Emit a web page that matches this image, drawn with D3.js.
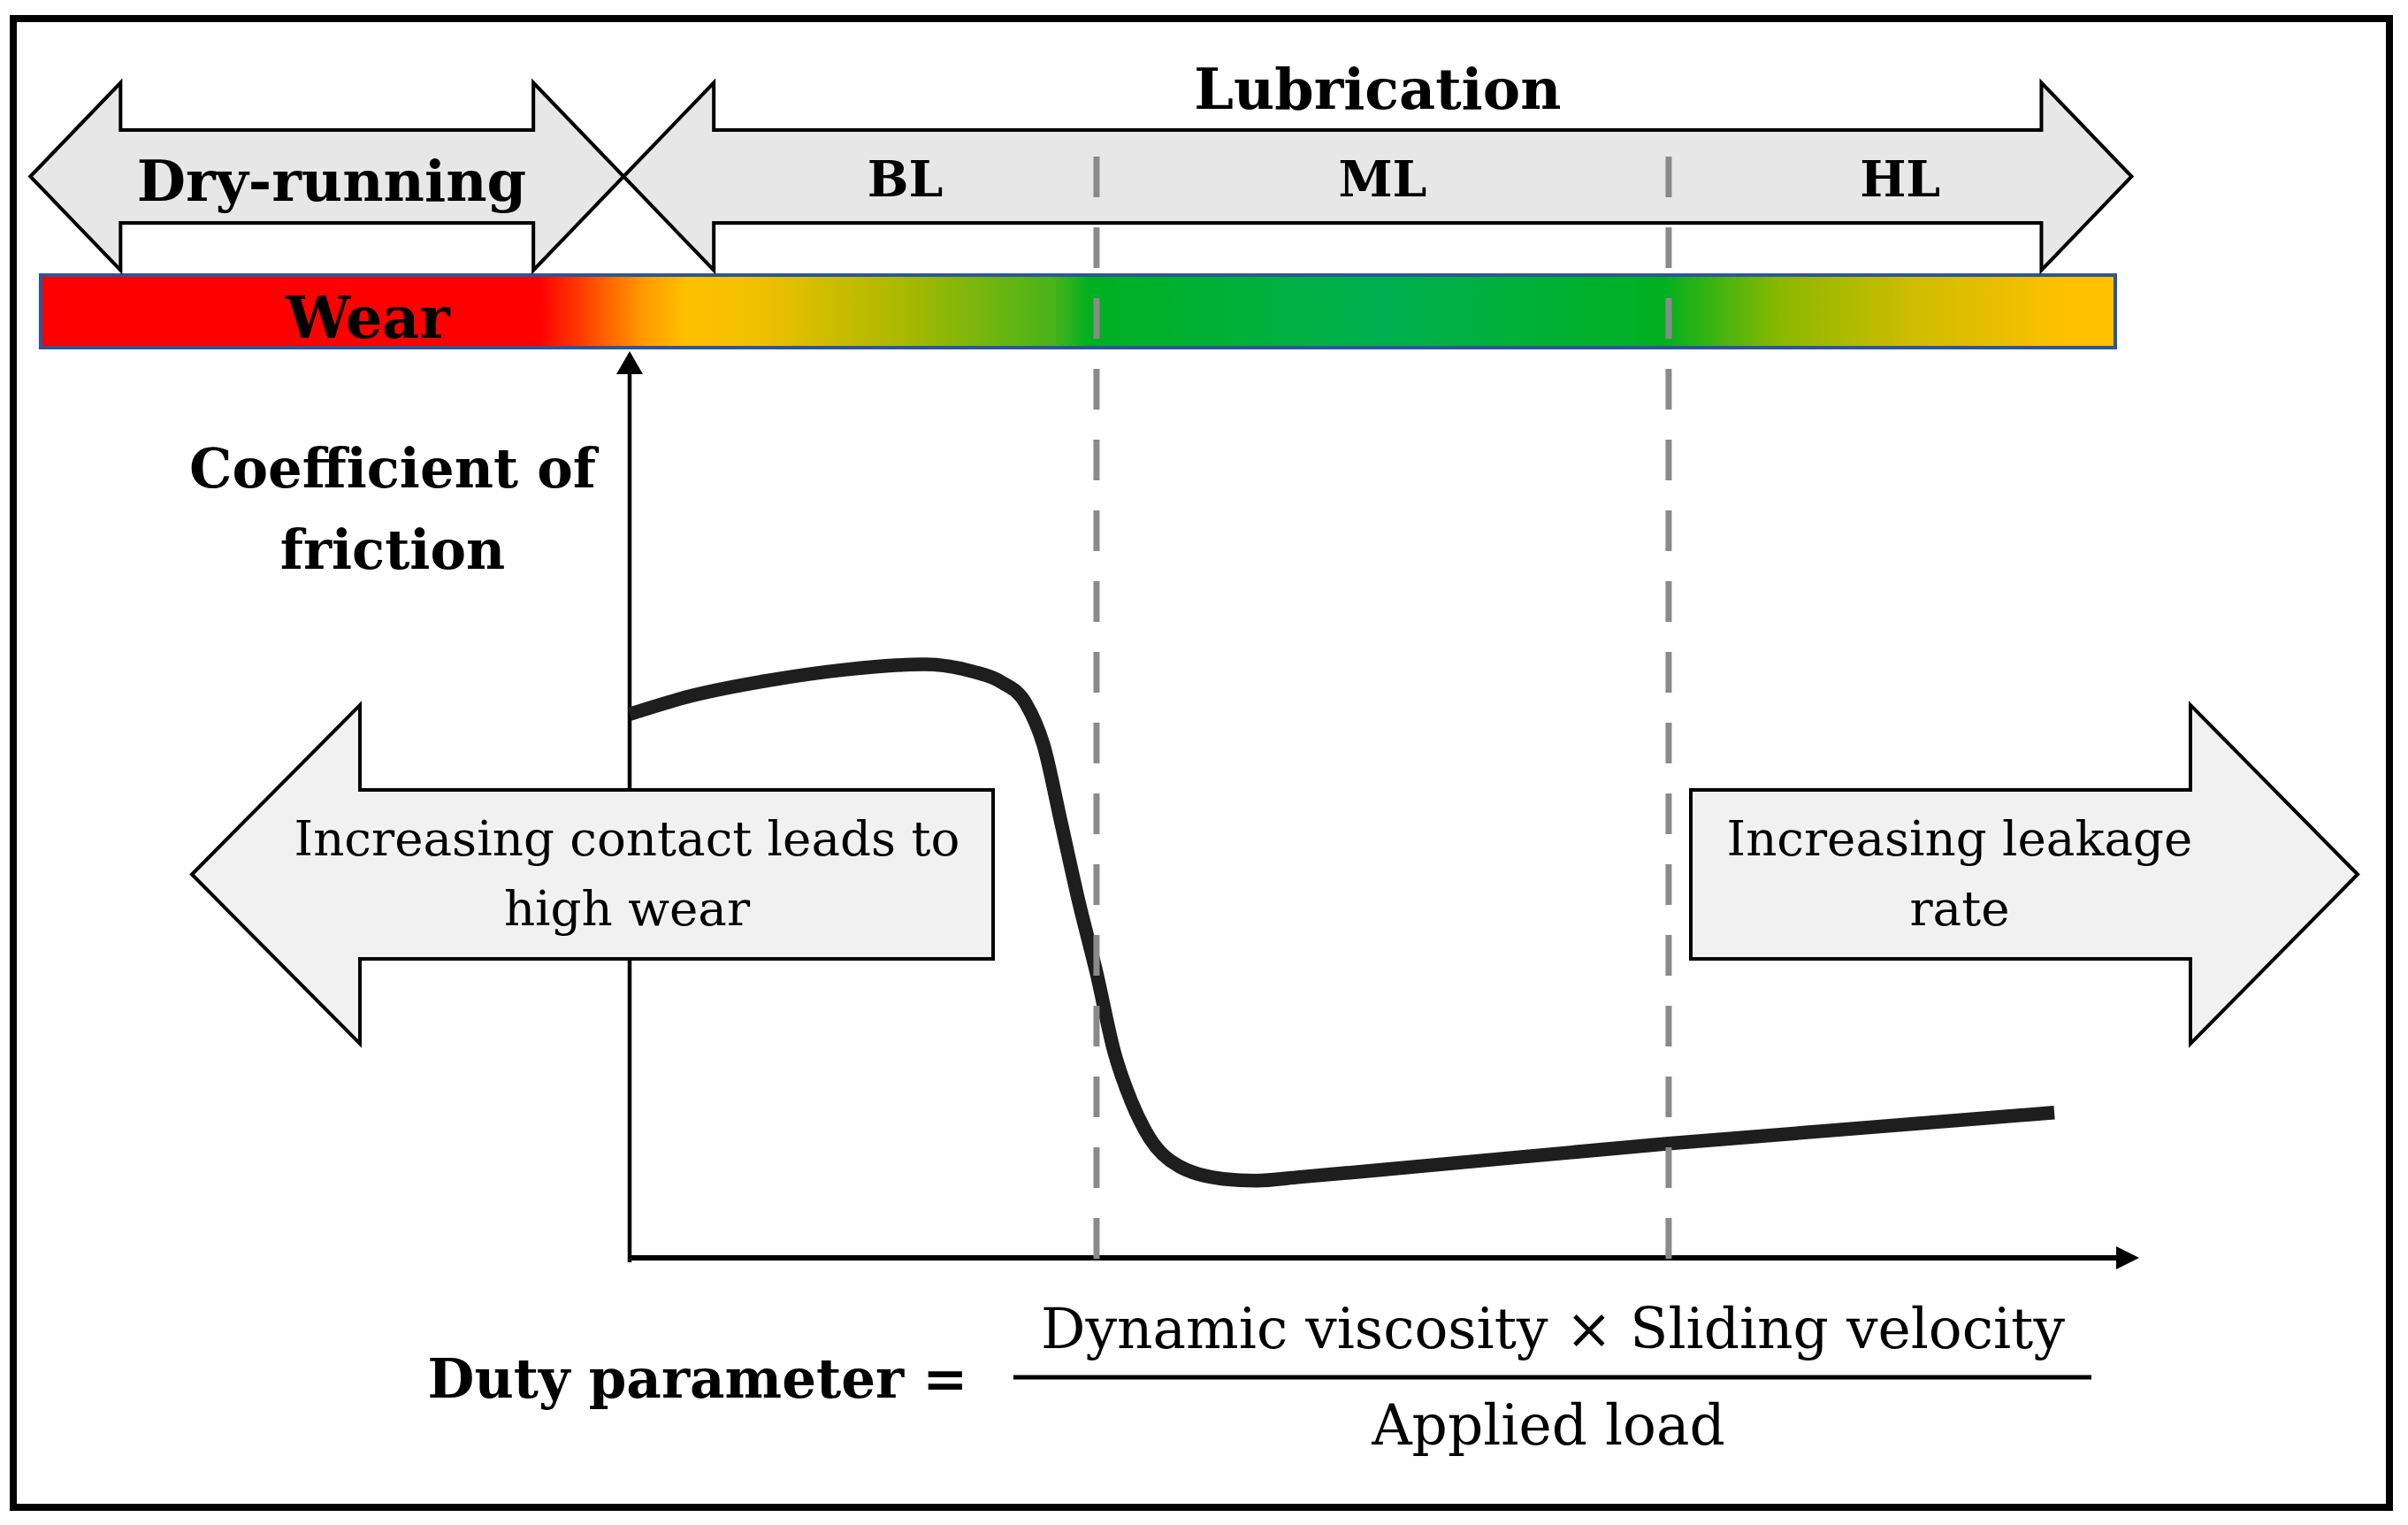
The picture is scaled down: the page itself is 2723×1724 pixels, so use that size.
<!DOCTYPE html>
<html><head><meta charset="utf-8">
<script src="https://cdn.jsdelivr.net/npm/d3@7"></script>
<style>body{margin:0;background:#fff}svg{display:block}</style>
</head><body>
<script>
// ---------- DATA ----------
const dutyParameter = [0, 4.04, 9.14, 14.24, 19.51, 22.73, 24.66, 26.24, 27.42, 28.59, 29.76, 30.93, 32.10, 33.27, 34.45, 36.38, 39.31, 41.48, 44.41, 48.51, 68.83, 94.38];
const frictionCoef  = [0.601, 0.621, 0.638, 0.650, 0.656, 0.648, 0.636, 0.613, 0.567, 0.481, 0.394, 0.316, 0.229, 0.173, 0.134, 0.103, 0.089, 0.087, 0.091, 0.097, 0.128, 0.162];
const regimeNames = ["BL", "ML", "HL"];
const regimeBounds = [30.93, 68.83];
const topArrowLabels = ["Dry-running", "Lubrication"];
const topArrowSpans = [[-39.7, -0.4], [-0.4, 99.5]];
const wearLabel = "Wear";
const wearSpan = [-39.02, 98.42];
const wearStopPos = [-39.02, -5.98, -3.05, 0.88, 3.75, 8.67, 18.34, 28.06, 30.46, 49.68, 68.42, 76.27, 84.65, 95.14, 98.42];
const wearStopColors = ["#ff0000", "#ff0000", "#ff4000", "#ff9a00", "#ffc000", "#f0c000", "#a8b800", "#48b41a", "#00b020", "#00b050", "#00b020", "#8cb800", "#ccbc00", "#ffc000", "#ffc000"];
const sideArrowLabels = [["Increasing contact leads to", "high wear"], ["Increasing leakage", "rate"]];
const yAxisLabel = ["Coefficient of", "friction"];
const xAxisLabel = "Duty parameter =";
const fractionNum = "Dynamic viscosity \u00d7 Sliding velocity";
const fractionDen = "Applied load";

// ---------- LAYOUT ----------
const W = 2723, H = 1724;
const FONT = "'DejaVu Serif', 'Liberation Serif', serif";
const svg = d3.select("body").append("svg").attr("width", W).attr("height", H);
const x = d3.scaleLinear().domain([0, 100]).range([712, 2419]);
const y = d3.scaleLinear().domain([0, 1]).range([1424, 398]);

svg.append("rect").attr("width", W).attr("height", H).attr("fill", "#fff");

// frame
svg.append("rect").attr("x", 15).attr("y", 21).attr("width", 2687).attr("height", 1683)
  .attr("fill", "none").attr("stroke", "#000").attr("stroke-width", 8);

function fitGroup(nodes, target, extra) {
  const w = nodes[0].node().getComputedTextLength();
  const fs = parseFloat(nodes[0].attr("font-size"));
  const nfs = fs * target / w * (extra || 1);
  nodes.forEach(n => n.attr("font-size", nfs));
}
function txt(str, cx, by, bold, fs) {
  return svg.append("text").attr("x", cx).attr("y", by).attr("text-anchor", "middle")
    .attr("font-family", FONT).attr("font-weight", bold ? "bold" : "normal")
    .attr("font-size", fs).attr("fill", "#000").text(str);
}

// wear bar
const defs = svg.append("defs");
const grad = defs.append("linearGradient").attr("id", "wearGrad")
  .attr("gradientUnits", "userSpaceOnUse")
  .attr("x1", x(wearSpan[0])).attr("x2", x(wearSpan[1])).attr("y1", 0).attr("y2", 0);
wearStopPos.forEach((p, i) => {
  grad.append("stop").attr("offset", (p - wearSpan[0]) / (wearSpan[1] - wearSpan[0]))
    .attr("stop-color", wearStopColors[i]);
});
svg.append("rect").attr("x", x(wearSpan[0])).attr("y", 311)
  .attr("width", x(wearSpan[1]) - x(wearSpan[0])).attr("height", 82)
  .attr("fill", "url(#wearGrad)").attr("stroke", "#2f5597").attr("stroke-width", 4);

// top double arrows
const topCy = 199.5, headH = 106, shaftH = 52.5, headL = 102;
topArrowSpans.forEach(s => {
  const xa = x(s[0]), xb = x(s[1]);
  const p = d3.path();
  p.moveTo(xa, topCy);
  p.lineTo(xa + headL, topCy - headH); p.lineTo(xa + headL, topCy - shaftH);
  p.lineTo(xb - headL, topCy - shaftH); p.lineTo(xb - headL, topCy - headH);
  p.lineTo(xb, topCy);
  p.lineTo(xb - headL, topCy + headH); p.lineTo(xb - headL, topCy + shaftH);
  p.lineTo(xa + headL, topCy + shaftH); p.lineTo(xa + headL, topCy + headH);
  p.closePath();
  svg.append("path").attr("d", p.toString()).attr("fill", "#e7e7e7")
    .attr("stroke", "#000").attr("stroke-width", 4).attr("stroke-linejoin", "miter");
});

// axes
svg.append("line").attr("x1", x(0)).attr("x2", x(0)).attr("y1", y(0) + 3).attr("y2", 420)
  .attr("stroke", "#000").attr("stroke-width", 4.5);
svg.append("path").attr("d", `M${x(0)},397 L${x(0) - 15},423 L${x(0) + 15},423 Z`).attr("fill", "#000");
svg.append("line").attr("x1", x(0) - 2).attr("x2", x(100) - 22).attr("y1", y(0) - 2).attr("y2", y(0) - 2)
  .attr("stroke", "#000").attr("stroke-width", 6);
svg.append("path").attr("d", `M${x(100)},${y(0) - 2} L${x(100) - 26},${y(0) - 15} L${x(100) - 26},${y(0) + 11} Z`).attr("fill", "#000");

// side arrows
const sCy = 988.5, sHead = 191.5, sBox = 95.5;
function sideArrow(tip, base, end) {
  const p = d3.path();
  p.moveTo(tip, sCy);
  p.lineTo(base, sCy - sHead); p.lineTo(base, sCy - sBox); p.lineTo(end, sCy - sBox);
  p.lineTo(end, sCy + sBox); p.lineTo(base, sCy + sBox); p.lineTo(base, sCy + sHead);
  p.closePath();
  svg.append("path").attr("d", p.toString()).attr("fill", "#f1f1f1")
    .attr("stroke", "#000").attr("stroke-width", 4);
}
sideArrow(217, 407, 1123);
sideArrow(2666, 2477, 1912);

// friction curve
const pts = dutyParameter.map((d, i) => [d, frictionCoef[i]]);
svg.append("path").datum(pts)
  .attr("d", d3.line().x(d => x(d[0])).y(d => y(d[1])).curve(d3.curveMonotoneX))
  .attr("fill", "none").attr("stroke", "#1e1e1e").attr("stroke-width", 15.5).attr("stroke-linecap", "butt");

// dashed regime boundaries
regimeBounds.forEach(b => {
  svg.append("line").attr("x1", x(b)).attr("x2", x(b)).attr("y1", 177).attr("y2", 1445)
    .attr("stroke", "#8a8a8a").attr("stroke-width", 7).attr("stroke-dasharray", "46,34");
});

// texts
fitGroup([txt(topArrowLabels[1], x(d3.mean(topArrowSpans[1])), 123, true, 60)], 407, 1.02);
fitGroup([txt(topArrowLabels[0], 375, 227, true, 60)], 432, 1.02);
const regimeEdges = [x(topArrowSpans[1][0]) + headL, x(regimeBounds[0]), x(regimeBounds[1]), x(topArrowSpans[1][1])];
const rl = regimeNames.map((r, i) => txt(r, (regimeEdges[i] + regimeEdges[i + 1]) / 2, 222, true, 55));
fitGroup([rl[1], rl[0], rl[2]], 91, 1.1);
fitGroup([txt(wearLabel, 416, 382, true, 60)], 180, 1.03);
fitGroup([txt(yAxisLabel[0], 444, 551, true, 60), txt(yAxisLabel[1], 444, 643, true, 60)], 460);
fitGroup([txt(sideArrowLabels[0][0], 709, 967, false, 55), txt(sideArrowLabels[0][1], 709, 1046, false, 55)], 753);
fitGroup([txt(sideArrowLabels[1][0], 2216, 967, false, 55), txt(sideArrowLabels[1][1], 2216, 1046, false, 55)], 527);
fitGroup([txt(xAxisLabel, 789, 1580, true, 60)], 611);
fitGroup([txt(fractionNum, 1756, 1524, false, 58), txt(fractionDen, 1751, 1633, false, 58)], 1158);
svg.append("line").attr("x1", 1146).attr("x2", 2365).attr("y1", 1557).attr("y2", 1557)
  .attr("stroke", "#000").attr("stroke-width", 5);
</script>
</body></html>
